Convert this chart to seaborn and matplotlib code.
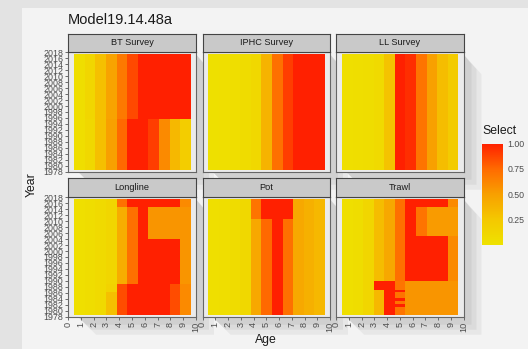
import numpy as np
import pandas as pd
import matplotlib
matplotlib.use("Agg")
import matplotlib.pyplot as plt
import seaborn as sns
from matplotlib.colors import LinearSegmentedColormap, Normalize
from matplotlib.patches import Rectangle, Polygon
from matplotlib.cm import ScalarMappable

sns.set_style("white")
plt.rcParams['font.family'] = ['Liberation Sans', 'DejaVu Sans']

# ---------------- data ----------------
title = "Model19.14.48a"
fleets = ["BT Survey", "IPHC Survey", "LL Survey", "Longline", "Pot", "Trawl"]
years = list(range(1978, 2019))
ages = list(range(11))
year_ticks = list(range(1978, 2019, 2))
age_ticks = list(range(11))
legend_ticks = [0.25, 0.50, 0.75, 1.00]

# selectivity blocks: (first year, last year, selectivity at ages 0..10)
bt_blocks = [
    (1978, 1995, [0.04, 0.10, 0.30, 0.50, 0.75, 1.00, 1.00, 0.90, 0.60, 0.35, 0.20]),
    (1996, 2018, [0.04, 0.12, 0.30, 0.48, 0.68, 0.86, 1.00, 1.00, 1.00, 1.00, 1.00]),
]
iphc_blocks = [
    (1978, 2018, [0.02, 0.03, 0.04, 0.06, 0.10, 0.38, 0.72, 0.90, 1.00, 1.00, 1.00]),
]
llsurvey_blocks = [
    (1978, 2018, [0.03, 0.04, 0.05, 0.08, 0.28, 1.00, 0.95, 0.70, 0.50, 0.32, 0.22]),
]
longline_blocks = [
    (1978, 1985, [0.03, 0.05, 0.08, 0.30, 0.85, 1.00, 1.00, 1.00, 1.00, 0.85, 0.60]),
    (1986, 1988, [0.03, 0.05, 0.08, 0.15, 0.85, 1.00, 1.00, 1.00, 1.00, 0.85, 0.60]),
    (1989, 2004, [0.03, 0.05, 0.08, 0.12, 0.42, 0.72, 1.00, 1.00, 1.00, 1.00, 0.55]),
    (2005, 2015, [0.03, 0.05, 0.08, 0.12, 0.42, 0.72, 1.00, 0.55, 0.55, 0.55, 0.55]),
    (2016, 2018, [0.03, 0.05, 0.08, 0.12, 0.72, 1.00, 1.00, 1.00, 1.00, 1.00, 0.60]),
]
pot_blocks = [
    (1978, 2011, [0.03, 0.04, 0.06, 0.10, 0.45, 0.75, 1.00, 0.72, 0.45, 0.40, 0.35]),
    (2012, 2018, [0.03, 0.04, 0.06, 0.10, 0.70, 1.00, 1.00, 1.00, 0.45, 0.40, 0.35]),
]
trawl_blocks = [
    (1978, 1986, [0.03, 0.05, 0.12, 0.35, 1.00, 0.70, 0.55, 0.55, 0.55, 0.55, 0.55]),
    (1987, 1989, [0.03, 0.05, 0.12, 1.00, 1.00, 0.70, 0.55, 0.55, 0.55, 0.55, 0.55]),
    (1990, 2005, [0.03, 0.05, 0.12, 0.32, 0.45, 0.72, 1.00, 1.00, 1.00, 1.00, 0.60]),
    (2006, 2015, [0.03, 0.05, 0.12, 0.32, 0.45, 0.72, 1.00, 0.70, 0.52, 0.52, 0.52]),
    (2016, 2018, [0.03, 0.05, 0.12, 0.32, 0.45, 0.72, 1.00, 1.00, 1.00, 1.00, 0.60]),
]
trawl_red_age5_years = [1981, 1983, 1986]

fleet_blocks = [bt_blocks, iphc_blocks, llsurvey_blocks,
                longline_blocks, pot_blocks, trawl_blocks]


def build(blocks):
    df = pd.DataFrame(index=years[::-1], columns=ages, dtype=float)
    for y0, y1, vals in blocks:
        for y in range(y0, y1 + 1):
            df.loc[y] = vals
    return df


tables = [build(b) for b in fleet_blocks]
for y in trawl_red_age5_years:
    tables[5].loc[y, 5] = 1.0

cmap = LinearSegmentedColormap.from_list(
    "sel", [(0.0, "#eee200"), (0.25, "#f4c800"), (0.5, "#f8a000"),
            (0.75, "#ff6a00"), (1.0, "#ff2000")])

# ---------------- layout ----------------
W, H = 528, 349
fig = plt.figure(figsize=(W / 100, H / 100), dpi=100)
fig.patch.set_facecolor("#e3e3e3")
bg = fig.add_axes([0, 0, 1, 1], zorder=-10)
bg.set_xlim(0, W)
bg.set_ylim(H, 0)
bg.axis("off")
bg.add_patch(Rectangle((22, 8), W, H, facecolor="#f3f3f3", edgecolor="none"))


def fax(x0, y0, x1, y1):
    return [x0 / W, 1 - y1 / H, (x1 - x0) / W, (y1 - y0) / H]


cols = [(68, 196), (202.5, 330), (336, 463.5)]
rows = [(52.3, 171.7), (197.3, 316.7)]
strips = [(33.5, 52.3), (178.3, 197.3)]

# soft drop shadows behind the panels (decorative, like the reference)
for r in range(2):
    for c in range(3):
        x0, x1 = cols[c]
        y0, y1 = rows[r]
        for k, a in ((18, 0.07), (13, 0.08), (8, 0.08)):
            bg.add_patch(Polygon([(x1, y0 + 2), (x1 + k, y0 + k + 4),
                                  (x1 + k, y1 + k), (x0 + k + 10, y1 + k),
                                  (x0 + 10, y1)], closed=True,
                                 facecolor="#555555", alpha=a,
                                 edgecolor="none"))

# mapping of axis values into heatmap cell coordinates
x_lo, x_w = 0.47, 0.83       # left edge (age units) and cell width
y_top, y_h = 2017.5, 0.951   # top edge (years) and cell height


def hx(a):
    return (a - x_lo) / x_w


def hy(yr):
    return (y_top - yr) / y_h


tick_col = "#4d4d4d"
for i, (name, df) in enumerate(zip(fleets, tables)):
    r, c = divmod(i, 3)
    x0, x1 = cols[c]
    y0, y1 = rows[r]
    ax = fig.add_axes(fax(x0, y0, x1, y1))
    ax.set_facecolor("#ebebeb")
    sns.heatmap(df, ax=ax, cmap=cmap, vmin=0, vmax=1, cbar=False,
                xticklabels=False, yticklabels=False)
    ax.set_xlim(hx(0), hx(10))
    ax.set_ylim(hy(1978), hy(2018))
    ax.set_xlabel("")
    ax.set_ylabel("")
    for s in ax.spines.values():
        s.set_visible(True)
        s.set_color("#666666")
        s.set_linewidth(0.8)
    ax.set_yticks([hy(v) for v in year_ticks])
    ax.set_xticks([hx(v) for v in age_ticks])
    if c == 0:
        ax.set_yticklabels([str(v) for v in year_ticks], fontsize=6.4,
                           color=tick_col, rotation=0)
        ax.tick_params(axis="y", length=2.5, width=0.6, color="#555555", pad=1,
                       left=True)
    else:
        ax.set_yticklabels([])
        ax.tick_params(axis="y", length=0)
    if r == 1:
        ax.set_xticklabels([str(v) for v in age_ticks], fontsize=6.6,
                           color=tick_col, rotation=90)
        ax.tick_params(axis="x", length=2.5, width=0.6, color="#555555", pad=1,
                       bottom=True)
    else:
        ax.set_xticklabels([])
        ax.tick_params(axis="x", length=0)

    sx = fig.add_axes(fax(x0, strips[r][0], x1, strips[r][1]))
    sx.set_facecolor("#c9c9c9")
    sx.set_xticks([])
    sx.set_yticks([])
    for s in sx.spines.values():
        s.set_color("#444444")
        s.set_linewidth(0.8)
    sx.text(0.5, 0.5, name, ha="center", va="center", fontsize=6.6,
            color="#1a1a1a", transform=sx.transAxes)

fig.text(68 / W, 1 - 20 / H, title, ha="left", va="center", fontsize=10.5,
         color="#1a1a1a")
fig.text(32 / W, 1 - 184.5 / H, "Year", rotation=90, ha="center", va="center",
         fontsize=8.8, color="#1a1a1a")
fig.text(266 / W, 1 - 340 / H, "Age", ha="center", va="center",
         fontsize=8.8, color="#1a1a1a")

# colour bar
cax = fig.add_axes(fax(482, 143.5, 503, 245))
sm = ScalarMappable(norm=Normalize(0, 1), cmap=cmap)
cb = fig.colorbar(sm, cax=cax, ticks=legend_ticks)
cb.outline.set_visible(False)
cb.ax.set_yticklabels([f"{t:.2f}" for t in legend_ticks], fontsize=6.3,
                      color=tick_col)
cb.ax.tick_params(length=3, width=0.6, color="white", pad=3, direction="in")
fig.text(482 / W, 1 - 131 / H, "Select", ha="left", va="center",
         fontsize=8.8, color="#1a1a1a")

fig.savefig("out.png", dpi=100, facecolor=fig.get_facecolor())
